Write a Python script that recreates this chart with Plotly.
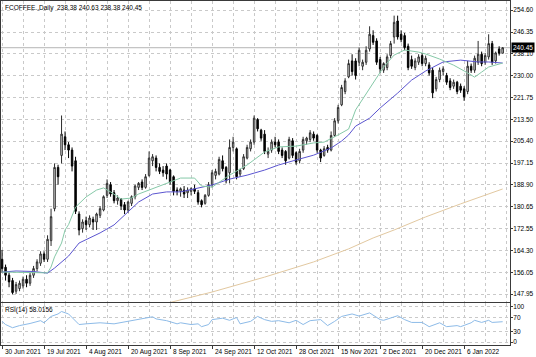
import plotly.graph_objects as go

# ---------------- data ----------------
symbol = "FCOFFEE.,Daily"
opens = [161.0,158.0,155.0,153.0,149.0,150.0,151.0,153.5,152.0,155.0,157.5,159.5,163.0,161.0,168.0,180.0,195.5,200.0,207.0,204.0,
         202.0,198.0,178.0,172.5,175.5,174.0,176.0,175.0,177.5,179.5,185.0,189.0,186.0,183.0,183.5,181.5,179.5,182.0,184.5,188.0,
         190.0,188.0,192.5,198.0,199.0,195.5,194.5,196.0,194.5,192.0,187.0,186.5,187.0,186.0,186.5,187.5,186.0,183.0,182.0,185.0,
         189.0,192.5,193.0,198.0,195.5,193.5,203.0,202.5,193.0,195.0,199.0,202.5,205.0,213.5,209.5,208.0,200.5,202.0,205.0,205.0,
         202.0,201.5,199.0,205.5,201.0,198.0,202.0,205.5,206.0,208.0,207.5,202.0,200.0,203.0,202.0,207.5,213.0,219.0,224.0,229.5,
         235.5,235.5,235.0,233.5,235.0,240.0,245.0,243.0,236.0,232.0,233.0,237.5,244.5,250.5,245.5,245.0,241.0,236.0,233.0,235.0,
         237.5,234.5,234.0,232.0,225.0,228.5,231.5,230.0,228.0,226.0,227.5,226.0,225.0,224.0,233.5,232.0,235.0,238.0,235.0,237.0,
         242.0,235.5,240.0,238.38]
highs = [164.5,159.0,156.0,154.0,152.5,153.0,154.5,155.0,156.0,158.5,161.0,164.0,164.0,170.0,180.0,197.0,196.5,215.0,209.0,205.0,
         203.0,199.5,179.0,176.0,177.0,177.5,177.0,178.5,181.0,185.0,191.0,190.0,187.0,185.0,184.0,182.5,183.0,185.0,189.0,190.0,
         191.0,193.0,201.5,200.5,200.0,197.0,196.0,197.0,195.0,192.5,188.0,188.0,188.5,188.0,188.0,189.0,187.0,183.5,185.5,190.0,
         194.5,195.0,199.5,200.0,196.0,206.0,207.0,203.0,195.0,200.5,204.0,206.0,215.0,214.0,210.0,209.5,203.0,206.0,207.0,206.0,
         203.0,202.0,207.0,206.5,201.5,202.5,207.0,207.0,209.5,209.0,208.0,202.5,203.5,204.0,209.0,214.0,219.0,226.5,229.0,236.0,
         238.0,236.5,240.5,236.0,241.0,248.5,247.0,244.0,237.0,235.0,238.0,243.0,252.5,252.5,247.0,246.0,242.0,237.5,236.5,238.0,
         238.5,237.5,235.0,233.0,229.5,233.0,233.5,231.0,229.0,228.5,228.0,227.0,226.0,235.5,234.5,237.5,243.0,239.0,238.5,245.5,
         243.0,239.0,241.0,240.63]
lows = [156.0,153.0,150.5,147.8,148.0,149.0,150.0,150.5,151.0,154.0,156.5,158.5,160.0,160.0,166.0,179.0,189.0,197.0,202.0,199.0,
        194.0,178.0,170.0,171.0,172.0,173.0,172.0,172.0,176.5,179.0,184.0,184.5,182.0,181.5,179.5,178.0,178.5,181.0,183.5,187.0,
        187.0,187.5,192.0,196.0,194.0,193.0,192.0,191.0,189.0,185.0,185.0,184.5,184.0,184.0,185.0,185.5,181.5,180.5,181.5,184.5,
        188.0,191.0,192.5,194.0,189.5,189.5,201.5,191.0,192.0,194.5,198.5,201.5,204.0,209.0,205.5,200.5,199.0,201.0,203.0,200.5,
        199.0,196.5,198.5,199.0,196.5,197.0,201.0,204.0,205.0,205.5,201.0,197.5,199.5,201.0,201.5,207.0,212.0,218.5,223.0,229.0,
        230.0,228.5,233.5,232.0,234.0,239.0,241.5,234.0,231.0,231.0,232.0,236.5,242.0,243.5,242.5,239.5,232.0,232.5,232.0,234.0,
        233.5,233.5,230.0,221.5,224.0,227.5,230.0,226.5,224.5,225.0,223.0,223.5,220.5,223.0,231.0,231.0,234.0,233.5,234.0,236.0,
        234.0,234.5,237.5,238.38]
closes = [157.5,155.0,152.5,148.5,151.5,152.0,153.5,152.0,155.0,157.5,160.0,163.0,161.0,168.5,177.0,195.5,192.0,208.0,204.0,202.0,
          196.0,179.0,172.0,175.0,174.0,176.5,175.0,178.0,180.0,184.5,189.5,185.5,183.0,184.0,181.0,179.5,182.5,184.5,188.5,189.5,
          188.0,192.0,199.0,199.5,195.5,194.0,193.5,193.0,190.0,186.5,186.5,187.5,185.5,187.0,187.5,186.5,182.5,181.5,185.0,189.0,
          193.5,194.0,198.5,195.0,190.5,203.0,205.0,192.0,194.5,199.5,203.0,205.0,214.0,210.0,206.5,201.5,201.5,205.0,204.0,201.5,
          200.0,198.0,206.0,200.0,197.5,201.5,206.0,206.5,208.5,206.5,202.0,199.0,202.5,202.0,207.5,213.0,218.0,225.5,228.0,234.5,
          231.5,230.0,239.5,235.0,239.5,245.5,242.5,235.0,232.5,234.5,237.0,242.0,250.0,244.5,243.5,240.5,233.0,233.5,235.5,237.0,
          234.5,236.5,231.0,223.5,228.5,232.0,232.5,227.5,225.5,227.5,224.0,224.5,222.0,233.5,232.0,236.5,238.0,234.5,237.5,242.0,
          235.0,238.5,238.38,240.45]

# moving averages (bar index, value)
ma_fast_idx = [0,5,11,13,14,15,17,18,19,21,24,27,29,31,34,37,39,42,45,48,51,55,57,60,65,70,75,79,84,89,92,96,99,101,106,109,112,115,119,121,125,129,133,135,137,139,143]
ma_fast_val = [156.2,156.0,155.8,155.9,158.1,161.9,167.1,172.0,174.0,180.6,184.4,187.0,187.8,186.3,183.6,184.0,185.5,187.0,188.5,190.0,191.5,191.5,188.5,188.1,192.6,196.4,201.3,203.2,203.5,204.7,205.0,207.7,209.9,217.1,227.2,233.2,237.7,239.6,238.8,238.1,236.2,233.9,231.0,229.4,231.3,233.2,234.7]
ma_mid_idx = [0,4,9,13,15,19,22,28,32,36,39,43,47,51,56,60,65,70,75,79,84,89,94,97,99,101,105,108,113,117,121,126,131,136,139,143]
ma_mid_val = [156.2,156.6,156.4,155.8,157.7,162.2,167.1,170.9,173.9,178.8,182.5,185.5,186.3,186.3,187.8,188.9,191.1,192.6,194.5,196.4,198.3,200.1,202.8,205.4,207.7,211.0,214.0,217.8,223.4,228.3,231.7,235.1,235.8,235.1,235.1,234.7]
ma_slow_idx = [45,60,75,89,99,106,112,121,131,143]
ma_slow_val = [143.8,148.7,154.3,160.0,164.9,169.0,172.0,176.9,181.8,187.4]

rsi_idx = [0,1,3,5,8,11,12,14,16,17,19,20,22,24,28,32,36,39,43,44,47,50,51,54,56,57,59,60,63,65,67,68,71,73,75,77,79,82,84,86,88,91,93,95,97,100,102,105,108,109,112,113,115,117,120,122,125,127,130,131,134,135,137,139,140,143]
rsi_val = [59,50,41,47,53,61,55,73,80,87,80,69,50,52,55,52,59,64,72,66,61,52,55,50,52,44,50,64,68,62,70,52,59,73,64,59,61,55,62,50,61,64,47,59,73,80,74,83,64,62,72,75,64,56,56,44,55,44,47,44,55,62,56,62,56,58]
rsi_last = "58.0156"

price_ticks = [147.95,156.05,164.30,172.55,180.65,188.90,197.15,205.40,213.50,221.75,230.00,238.10,246.35,254.60]
rsi_ticks = [0,30,70,100]
date_labels = ["30 Jun 2021","19 Jul 2021","4 Aug 2021","20 Aug 2021","8 Sep 2021","24 Sep 2021",
               "12 Oct 2021","28 Oct 2021","15 Nov 2021","2 Dec 2021","20 Dec 2021","6 Jan 2022"]
date_label_bars = [0,12,24,36,48,60,72,84,96,108,120,132]

bars = list(range(len(closes)))

# ---------------- figure ----------------
FONT = "Liberation Sans"
FS = 6.5
GRID = "#c9c9c9"
FRAME = "#3a3a3a"

fig = go.Figure()
fig.add_trace(go.Scatter(x=ma_slow_idx, y=ma_slow_val, mode="lines",
                         line=dict(color="#e2c8a0", width=1), hoverinfo="skip", showlegend=False))
fig.add_trace(go.Scatter(x=ma_mid_idx, y=ma_mid_val, mode="lines",
                         line=dict(color="#5b55d0", width=1), hoverinfo="skip", showlegend=False))
fig.add_trace(go.Scatter(x=ma_fast_idx, y=ma_fast_val, mode="lines",
                         line=dict(color="#86c9a8", width=1), hoverinfo="skip", showlegend=False))
fig.add_trace(go.Candlestick(
    x=bars, open=opens, high=highs, low=lows, close=closes,
    increasing=dict(line=dict(color="#2a2a2a", width=1), fillcolor="white"),
    decreasing=dict(line=dict(color="#000000", width=1), fillcolor="black"),
    whiskerwidth=0, hoverinfo="skip", showlegend=False))
fig.add_trace(go.Scatter(x=rsi_idx, y=rsi_val, mode="lines", xaxis="x2", yaxis="y2",
                         line=dict(color="#8dbbe8", width=1), hoverinfo="skip", showlegend=False))

xr = [-0.3, 145.1]
grid_bars = list(range(0, len(closes) + 2, 6))

fig.update_layout(
    width=536, height=357,
    margin=dict(l=1, r=26, t=1, b=12),
    paper_bgcolor="white", plot_bgcolor="white",
    font=dict(family=FONT, size=FS, color="black"),
    boxgap=0.4,
    hovermode=False,
    xaxis=dict(domain=[0, 1], range=xr, anchor="y", rangeslider=dict(visible=False),
               tickmode="array", tickvals=grid_bars, showticklabels=False, ticks="",
               showgrid=True, gridcolor=GRID, griddash="dot", gridwidth=1,
               showline=True, linecolor=FRAME, linewidth=1, mirror=True, zeroline=False),
    yaxis=dict(domain=[0.125, 1], range=[144.95, 258.0], side="right", anchor="x",
               tickmode="array", tickvals=price_ticks, ticktext=[f"{v:.2f}" for v in price_ticks],
               ticks="outside", ticklen=2, tickcolor=FRAME, ticklabelstandoff=-1,
               showgrid=True, gridcolor=GRID, griddash="dot", gridwidth=1,
               showline=True, linecolor=FRAME, linewidth=1, mirror=True, zeroline=False,
               tickfont=dict(size=FS), automargin=False),
    xaxis2=dict(domain=[0, 1], range=xr, anchor="y2",
                tickmode="array", tickvals=date_label_bars, showticklabels=False,
                ticks="outside", ticklen=3, tickcolor=FRAME,
                showgrid=True, gridcolor=GRID, griddash="dot",
                minor=dict(tickmode="linear", tick0=0, dtick=6, showgrid=True,
                           gridcolor=GRID, griddash="dot", ticks=""),
                showline=True, linecolor=FRAME, linewidth=1, mirror=True, zeroline=False),
    yaxis2=dict(domain=[0, 0.122], range=[-8, 111], side="right", anchor="x2",
                tickmode="array", tickvals=rsi_ticks, ticktext=[str(v) for v in rsi_ticks],
                ticks="outside", ticklen=2, tickcolor=FRAME, ticklabelstandoff=-1,
                showgrid=True, gridcolor=GRID, griddash="dot",
                showline=True, linecolor=FRAME, linewidth=1, mirror=True, zeroline=False,
                tickfont=dict(size=FS), automargin=False),
)

# date labels, left-aligned at their tick like the terminal does
for b, lab in zip(date_label_bars, date_labels):
    fig.add_annotation(xref="x2", x=b, xanchor="left", yref="paper", y=0, yanchor="top",
                       yshift=-1, xshift=1, text=lab, showarrow=False,
                       font=dict(size=FS, family=FONT, color="black"))

# bid line and price box
fig.add_shape(type="line", xref="paper", x0=0, x1=1, yref="y", y0=closes[-1], y1=closes[-1],
              line=dict(color="#b4b4b4", width=1), layer="below")
fig.add_annotation(xref="paper", x=1.0, xanchor="left", xshift=1, yref="y", y=closes[-1], yanchor="middle",
                   text=f"{closes[-1]:.2f}", showarrow=False, bgcolor="black",
                   font=dict(color="white", size=FS, family=FONT), borderpad=1)

# titles
fig.add_annotation(xref="paper", yref="paper", x=0.004, y=0.997, xanchor="left", yanchor="top",
                   text=f"{symbol}  {opens[-1]:.2f} {highs[-1]:.2f} {lows[-1]:.2f} {closes[-1]:.2f}",
                   showarrow=False, font=dict(size=FS, family=FONT, color="black"))
fig.add_annotation(xref="paper", yref="paper", x=0.004, y=0.118, xanchor="left", yanchor="top",
                   text=f"RSI(14) {rsi_last}", showarrow=False,
                   font=dict(size=FS, family=FONT, color="black"))

fig.write_html("out.html", config={"displayModeBar": False, "staticPlot": True},
               post_script="document.body.style.margin='0';document.body.style.overflow='hidden';")
